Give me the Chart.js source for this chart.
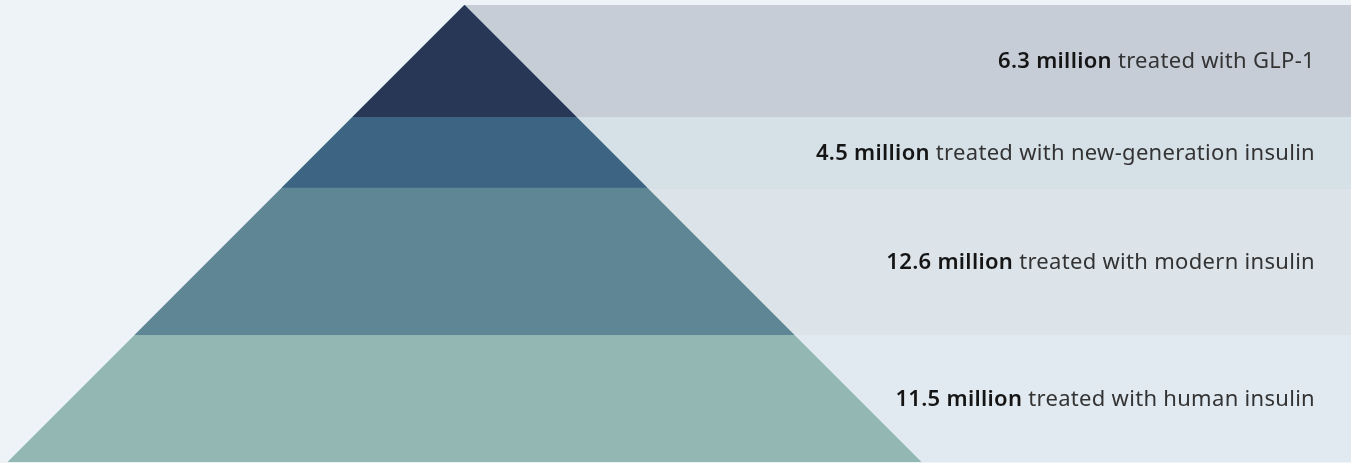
<!DOCTYPE html>
<html>
<head>
<meta charset="utf-8">
<script src="https://cdn.jsdelivr.net/npm/chart.js@4/dist/chart.umd.min.js"></script>
<style>
  html, body { margin: 0; padding: 0; background: #eef3f7; }
  #ctx { display: block; }
</style>
</head>
<body>
<canvas id="ctx" width="1351" height="463"></canvas>
<script>
// data
const treatments = ["GLP-1", "new-generation insulin", "modern insulin", "human insulin"];
const patientsMillions = [6.3, 4.5, 12.6, 11.5];

// layout: tier edges as level of the pyramid (0 = base, 100 = apex), top tier first
const tierEdges = [100, 75.5, 60, 27.8, 0];
const tierColors = ["#293757", "#3e6483", "#5f8694", "#93b8b4"];
const bandColors = ["#c6cdd7", "#d6e0e7", "#dce4ea", "#e1eaf0"];

const X_MIN = -464.5 / 457;
const X_MAX = 886.5 / 457;

const datasets = [];

// pyramid tiers, each one a triangle from the apex down to its base
treatments.forEach((t, i) => {
  const base = tierEdges[i + 1];
  const half = (100 - base) / 100;
  datasets.push({
    label: t,
    data: [{ x: -half, y: base }, { x: 0, y: 100 }, { x: half, y: base }],
    backgroundColor: tierColors[i],
    borderColor: "transparent",
    borderWidth: 0,
    pointRadius: 0,
    fill: { value: base },
    order: i,
  });
});

// right side bands
treatments.forEach((t, i) => {
  const top = tierEdges[i];
  const bottom = tierEdges[i + 1];
  datasets.push({
    label: "band " + t,
    data: [{ x: 0, y: top }, { x: X_MAX, y: top }],
    backgroundColor: bandColors[i],
    borderColor: i == 2 ? "#c9d5de" : "transparent",
    borderWidth: i == 2 ? 1 : 0,
    pointRadius: 0,
    fill: { value: bottom },
    order: 10 + i,
  });
});

const labelsPlugin = {
  id: "tierLabels",
  afterDraw(chart) {
    const c = chart.ctx;
    const y = chart.scales.y;
    const right = 1315;
    c.save();
    c.textBaseline = "middle";
    c.textAlign = "right";
    c.letterSpacing = "0.3px";
    treatments.forEach((t, i) => {
      const yc = y.getPixelForValue((tierEdges[i] + tierEdges[i + 1]) / 2) + 1;
      const rest = " treated with " + t;
      c.font = "400 22px 'Noto Sans'";
      c.fillStyle = "#333333";
      c.fillText(rest, right, yc);
      const w = c.measureText(rest).width;
      c.font = "600 22px 'Noto Sans'";
      c.fillStyle = "#151515";
      c.fillText(patientsMillions[i].toFixed(1) + " million", right - w, yc);
    });
    c.restore();
  },
};

new Chart(document.getElementById("ctx"), {
  type: "line",
  data: { datasets: datasets },
  options: {
    responsive: false,
    animation: false,
    devicePixelRatio: 1,
    layout: { padding: { top: 5, bottom: 1, left: 0, right: 0 } },
    elements: { line: { tension: 0 } },
    scales: {
      x: { type: "linear", min: X_MIN, max: X_MAX, display: false },
      y: { type: "linear", min: 0, max: 100, display: false },
    },
    plugins: {
      legend: { display: false },
      tooltip: { enabled: false },
    },
  },
  plugins: [labelsPlugin],
});
</script>
</body>
</html>
